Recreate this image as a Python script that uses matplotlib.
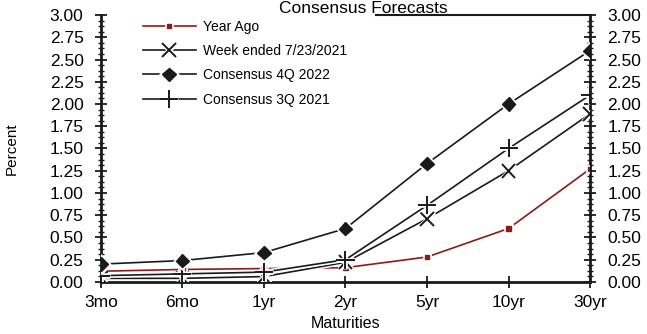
"""Consensus forecasts - treasury yield curve by maturity."""

import matplotlib
matplotlib.use("Agg")
import matplotlib.pyplot as plt
import matplotlib.patheffects as pe
from matplotlib.ticker import MultipleLocator

###################################################################################################
###################################################################################################

maturities = ['3mo', '6mo', '1yr', '2yr', '5yr', '10yr', '30yr']

year_ago = [0.12, 0.14, 0.15, 0.16, 0.28, 0.60, 1.27]
week_ended = [0.04, 0.04, 0.06, 0.22, 0.71, 1.25, 1.89]
cons_4q22 = [0.20, 0.24, 0.33, 0.60, 1.33, 2.00, 2.60]
cons_3q21 = [0.07, 0.09, 0.11, 0.25, 0.86, 1.50, 2.10]

plt.rcParams['font.family'] = ['Liberation Sans', 'DejaVu Sans']

fig = plt.figure(figsize=(6.47, 3.34), dpi=100)
ax = fig.add_axes([0.156, 0.156, 0.756, 0.799])

halo = lambda w: [pe.Stroke(linewidth=w + 2.2, foreground='white'), pe.Normal()]
xs = range(len(maturities))

ax.plot(xs, year_ago, color='#8b1a1a', lw=1.2, marker='s', ms=3,
        label='Year Ago', path_effects=halo(1.2), zorder=4)
ax.plot(xs, week_ended, color='#1a1a1a', lw=1.2, marker='x', ms=10, mew=1.4,
        label='Week ended 7/23/2021', path_effects=halo(1.2), zorder=5)
ax.plot(xs, cons_4q22, color='#1a1a1a', lw=1.2, marker='D', ms=7,
        label='Consensus 4Q 2022', path_effects=halo(1.2), zorder=6)
ax.plot(xs, cons_3q21, color='#1a1a1a', lw=1.2, marker='+', ms=13, mew=1.4,
        label='Consensus 3Q 2021', path_effects=halo(1.2), zorder=5)

ax.set_xlim(0, len(maturities) - 1)
ax.set_ylim(0, 3)
ax.set_xticks(list(xs))
ax.set_xticklabels(maturities)
ax.yaxis.set_major_locator(MultipleLocator(0.25))
ax.yaxis.set_minor_locator(MultipleLocator(0.0625))
ax.yaxis.set_major_formatter(matplotlib.ticker.FormatStrFormatter('%.2f'))

ax.tick_params(axis='both', which='major', direction='inout', length=9, width=1.3,
               labelsize=12.5, color='#1a1a1a')
ax.tick_params(axis='y', which='minor', direction='inout', length=4, width=1.0,
               color='#1a1a1a')
ax.tick_params(axis='y', which='both', right=True, labelright=True)
ax.tick_params(axis='y', which='major', pad=8)
ax.tick_params(axis='x', which='major', pad=5)

for side in ['left', 'right', 'bottom']:
    ax.spines[side].set_linewidth(2)
    ax.spines[side].set_color('#1a1a1a')
ax.spines['top'].set_visible(False)
ax.axhline(3, xmin=0.562, xmax=1, color='#1a1a1a', lw=1.5, clip_on=False)

ax.set_xlabel('Maturities', fontsize=11.5, labelpad=4)
ax.set_ylabel('Percent', fontsize=11, labelpad=22)
ax.set_title('Consensus Forecasts', fontsize=12.5, x=0.536, y=1.008, pad=0)

leg = ax.legend(loc='upper left', bbox_to_anchor=(0.06, 1.03), frameon=False,
                fontsize=10, handlelength=3.8, labelspacing=0.75, handletextpad=0.5)

fig.savefig('out.png', dpi=100)
